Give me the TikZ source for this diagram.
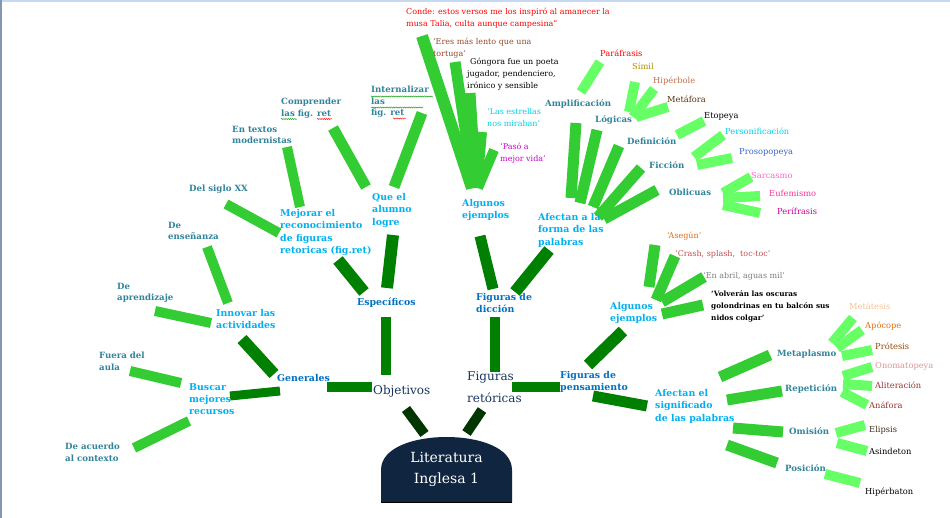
\documentclass[tikz,border=0pt]{standalone}
\usepackage{fontspec}
\setmainfont{DejaVu Serif}
\usetikzlibrary{decorations.pathmorphing}
\definecolor{tealc}{RGB}{49,132,155}
\definecolor{bbl}{RGB}{0,176,240}
\definecolor{mbl}{RGB}{0,112,192}
\definecolor{navy}{RGB}{23,54,93}
\definecolor{rootfill}{RGB}{16,37,63}
\definecolor{g1}{RGB}{0,55,0}
\definecolor{g2}{RGB}{0,128,0}
\definecolor{g3}{RGB}{51,204,51}
\definecolor{g4}{RGB}{102,255,102}
\definecolor{cred}{RGB}{255,0,0}
\definecolor{cbrown}{RGB}{150,75,40}
\definecolor{ccyan}{RGB}{0,210,235}
\definecolor{cmag}{RGB}{204,0,204}
\definecolor{colive}{RGB}{176,144,0}
\definecolor{csienna}{RGB}{192,112,77}
\definecolor{cdbrown}{RGB}{92,46,10}
\definecolor{croyal}{RGB}{51,102,204}
\definecolor{cpink}{RGB}{255,102,204}
\definecolor{chpink}{RGB}{255,51,153}
\definecolor{cdpink}{RGB}{204,0,153}
\definecolor{corange}{RGB}{228,108,10}
\definecolor{csalmon}{RGB}{192,80,77}
\definecolor{cgray}{RGB}{127,127,127}
\definecolor{cpeach}{RGB}{250,192,144}
\definecolor{cbrown2}{RGB}{152,72,6}
\definecolor{crose}{RGB}{217,150,148}
\definecolor{cmaroon}{RGB}{149,55,53}
\definecolor{cmaroon2}{RGB}{148,54,52}
\definecolor{cdark}{RGB}{63,47,31}
\definecolor{topline}{RGB}{198,217,241}
\definecolor{leftline}{RGB}{132,150,176}
\pgfdeclarelayer{bg}
\pgfsetlayers{bg,main}
\tikzset{
  lbl/.style={anchor=north west, inner sep=0pt, align=left},
  tl/.style={lbl, text=tealc, font=\bfseries\fontsize{8.6}{11.5}\selectfont},
  bb/.style={lbl, text=bbl, font=\bfseries\fontsize{9.4}{12.4}\selectfont},
  mb/.style={lbl, text=mbl, font=\bfseries\fontsize{9.4}{12}\selectfont},
  nv/.style={lbl, text=navy, font=\fontsize{12}{22}\selectfont},
  ex/.style={lbl, font=\fontsize{8}{12}\selectfont},
  lf/.style={lbl, font=\fontsize{8.3}{10}\selectfont},
  bar/.style={line width=11pt},
  b1/.style={bar, line width=10pt, draw=g1},
  b2/.style={bar, draw=g2},
  b3/.style={bar, draw=g3},
  b4/.style={bar, line width=10pt, draw=g4},
  wavy/.style={decorate, decoration={snake, amplitude=0.6pt, segment length=2.2pt}, line width=0.4pt}
}
\begin{document}
\begin{tikzpicture}[x=1pt,y=-1pt]
\useasboundingbox (0,0) rectangle (950,518);

% root shape
\fill[rootfill] (381,502) -- (381,470) .. controls (381,447) and (415,437) .. (446.5,437)
  .. controls (478,437) and (512,447) .. (512,470) -- (512,502) -- cycle;
\draw[black, line width=0.8pt] (381,502) -- (512,502);
\node[text=white, font=\fontsize{14}{21}\selectfont, align=center, inner sep=0pt] (root) at (446.5,469) {Literatura\\Inglesa 1};

% left teal labels
\node[tl] (apr) at (117,283) {De\\aprendizaje};
\node[tl] (fuera) at (99,352) {Fuera del\\aula};
\node[tl] (contexto) at (65,443) {De acuerdo\\al contexto};
\node[tl] (ensen) at (168,222) {De\\enseñanza};
\node[tl] (siglo) at (189,185) {Del siglo XX};
\node[tl] (textos) at (232,126) {En textos\\modernistas};
\node[tl] (compr) at (281,98) {Comprender\\las fig. ret};
\node[tl] (intern) at (371,86) {Internalizar\\las\\fig. ret};

% bright blue labels
\node[bb] (innovar) at (216,309) {Innovar las\\actividades};
\node[bb] (buscar) at (189,383) {Buscar\\mejores\\recursos};
\node[bb] (mejorar) at (280,209) {Mejorar el\\reconocimiento\\de figuras\\retoricas (fig.ret)};
\node[bb] (quel) at (372,193) {Que el\\alumno\\logre};
\node[bb] (ejA) at (462,199) {Algunos\\ejemplos};
\node[bb] (afectanF) at (538,213) {Afectan a la\\forma de las\\palabras};
\node[bb] (ejB) at (610,302) {Algunos\\ejemplos};
\node[bb] (afectanS) at (655,389) {Afectan el\\significado\\de las palabras};

% blue labels
\node[mb] (gen) at (277,374) {Generales};
\node[mb] (esp) at (357,298) {Específicos};
\node[mb] (dic) at (476,293) {Figuras de\\dicción};
\node[mb] (pens) at (560,371) {Figuras de\\pensamiento};

% navy labels
\node[nv] (obj) at (373,385) {Objetivos};
\node[nv] (fig) at (467,371) {Figuras\\retóricas};

% examples top
\node[ex, text=cred] (conde) at (406,8) {Conde: estos versos me los inspiró al amanecer la\\musa Talia, culta aunque campesina”};
\node[ex, text=cbrown] (eres) at (433,38) {‘Eres más lento que una\\tortuga’};
\node[ex, text=black] (gong) at (467,58) {\hspace{3pt}Góngora fue un poeta\\jugador, pendenciero,\\irónico y sensible};
\node[ex, text=ccyan] (estrellas) at (487,108) {‘Las estrellas\\nos miraban’};
\node[ex, text=cmag] (paso) at (500,143) {‘Pasó a\\mejor vida’};

% right top teal labels
\node[tl] (ampl) at (545,99) {Amplificación};
\node[tl] (logicas) at (595,115) {Lógicas};
\node[tl] (defin) at (627,137) {Definición};
\node[tl] (ficc) at (649,161) {Ficción};
\node[tl] (obl) at (669,189) {Oblicuas};

% right top leaves
\node[lf, text=cred] (parafr) at (600,50) {Paráfrasis};
\node[lf, text=colive] (simil) at (632,63) {Símil};
\node[lf, text=csienna] (hiperb) at (653,77) {Hipérbole};
\node[lf, text=cdbrown] (metaf) at (667,96) {Metáfora};
\node[lf, text=black] (etop) at (704,112) {Etopeya};
\node[lf, text=ccyan] (person) at (725,128) {Personificación};
\node[lf, text=croyal] (prosop) at (739,148) {Prosopopeya};
\node[lf, text=cpink] (sarc) at (751,172) {Sarcasmo};
\node[lf, text=chpink] (eufem) at (769,190) {Eufemismo};
\node[lf, text=cdpink] (perif) at (777,208) {Perífrasis};

% bottom right examples
\node[ex, text=corange] (asegun) at (667,232) {‘Asegún’};
\node[ex, text=csalmon] (crash) at (675,250) {‘Crash, splash,\ \ toc-toc’};
\node[ex, text=cgray] (abril) at (703,272) {‘En abril, aguas mil’};
\node[ex, text=black, font=\bfseries\fontsize{7.3}{12}\selectfont] (volv) at (711,290) {‘Volverán las oscuras\\golondrinas en tu balcón sus\\nidos colgar’};

% bottom right teal labels
\node[tl] (metapl) at (777,350) {Metaplasmo};
\node[tl] (repet) at (785,384) {Repetición};
\node[tl] (omis) at (789,427) {Omisión};
\node[tl] (posic) at (785,464) {Posición};

% bottom right leaves
\node[lf, text=cpeach] (metat) at (849,303) {Metátesis};
\node[lf, text=corange] (apoc) at (865,322) {Apócope};
\node[lf, text=cbrown2] (protes) at (875,343) {Prótesis};
\node[lf, text=crose] (onom) at (875,362) {Onomatopeya};
\node[lf, text=cmaroon] (alit) at (875,382) {Aliteración};
\node[lf, text=cmaroon2] (anaf) at (869,402) {Anáfora};
\node[lf, text=cdark] (elip) at (869,426) {Elipsis};
\node[lf, text=black] (asind) at (869,448) {Asindeton};
\node[lf, text=black] (hipba) at (865,488) {Hipérbaton};

% spell-check underlines
\draw[wavy, green!60!black] (281,119) -- (297,119);
\draw[wavy, red] (317,119) -- (332,119);
\draw[wavy, green!60!black] (371,96.5) -- (433,96.5);
\draw[wavy, green!60!black] (371,107.5) -- (423,107.5);
\draw[wavy, red] (393,118.5) -- (406,118.5);

\begin{pgfonlayer}{bg}
\fill[white] (0,0) rectangle (950,518);
\fill[topline] (0,0) rectangle (950,2);
\fill[leftline] (0,0) rectangle (1.5,518);
% left
\draw[b3, line width=10pt] ([shift={(38,28)}]apr.north west) -- ([shift={(-5,14)}]innovar.north west);
\draw[b2, line width=12pt] ([shift={(26,30)}]innovar.north west) -- ([shift={(-3,0)}]gen.north west);
\draw[b3, line width=10pt] ([shift={(39,25)}]ensen.north west) -- ([shift={(12,-6)}]innovar.north west);
\draw[b3, line width=10pt] ([shift={(31,19)}]fuera.north west) -- ([shift={(-8,0)}]buscar.north west);
\draw[b3, line width=10pt] ([shift={(69,5)}]contexto.north west) -- ([shift={(0,38)}]buscar.north west);
\draw[b2, line width=9pt] ([shift={(41,13)}]buscar.north west) -- ([shift={(3,17)}]gen.north west);
\draw[b2, line width=10pt] ([shift={(50,13)}]gen.north west) -- ([shift={(-1,2)}]obj.north west);
\draw[b3, line width=10pt] ([shift={(37,19)}]siglo.north west) -- ([shift={(-1,24)}]mejorar.north west);
\draw[b3, line width=10pt] ([shift={(55,21)}]textos.north west) -- ([shift={(20,-2)}]mejorar.north west);
\draw[b2, line width=12pt] ([shift={(58,51)}]mejorar.north west) -- ([shift={(7,-6)}]esp.north west);
\draw[b3] ([shift={(52,30)}]compr.north west) -- ([shift={(-6,-6)}]quel.north west);
\draw[b3] ([shift={(51,27)}]intern.north west) -- ([shift={(22,-6)}]quel.north west);
\draw[b2, line width=12pt] ([shift={(21,42)}]quel.north west) -- ([shift={(30,-10)}]esp.north west);
\draw[b2, line width=10pt] ([shift={(29,19)}]esp.north west) -- ([shift={(13,-10)}]obj.north west);
\draw[b1] ([shift={(33,24)}]obj.north west) -- ([shift={(-22,-35)}]root.center);
\draw[b1] ([shift={(15,39)}]fig.north west) -- ([shift={(20,-36)}]root.center);
% center
\draw[b2, line width=10pt] ([shift={(28,1)}]fig.north west) -- ([shift={(19,24)}]dic.north west);
\draw[b2] ([shift={(17,-4)}]dic.north west) -- ([shift={(18,37)}]ejA.north west);
\draw[b2, line width=12pt] ([shift={(39,-1)}]dic.north west) -- ([shift={(11,37)}]afectanF.north west);
\draw[b2, line width=10pt] ([shift={(45,16)}]fig.north west) -- ([shift={(0,16)}]pens.north west);
\draw[b3, line width=12pt] ([shift={(10,-11)}]ejA.north west) -- ([shift={(16,28)}]conde.north west);
\draw[b3, line width=11pt] ([shift={(12,-11)}]ejA.north west) -- ([shift={(22,24)}]eres.north west);
\draw[b3, line width=11pt] ([shift={(14,-11)}]ejA.north west) -- ([shift={(3,35)}]gong.north west);
\draw[b3, line width=10pt] ([shift={(15,-11)}]ejA.north west) -- ([shift={(-5,24)}]estrellas.north west);
\draw[b3, line width=10pt] ([shift={(16,-11)}]ejA.north west) -- ([shift={(-6,7)}]paso.north west);
% afectan forma
\draw[b3] ([shift={(33,-15)}]afectanF.north west) -- ([shift={(31,24)}]ampl.north west);
\draw[b3] ([shift={(42,-10)}]afectanF.north west) -- ([shift={(2,15)}]logicas.north west);
\draw[b3] ([shift={(55,-6)}]afectanF.north west) -- ([shift={(-8,9)}]defin.north west);
\draw[b3] ([shift={(60,4)}]afectanF.north west) -- ([shift={(-8,7)}]ficc.north west);
\draw[b3] ([shift={(66,6)}]afectanF.north west) -- ([shift={(-12,1)}]obl.north west);
\draw[b4] ([shift={(36,-7)}]ampl.north west) -- ([shift={(0,12)}]parafr.north west);
\draw[b4] ([shift={(34,-3)}]logicas.north west) -- ([shift={(3,19)}]simil.north west);
\draw[b4] ([shift={(38,2)}]logicas.north west) -- ([shift={(1,12)}]hiperb.north west);
\draw[b4] ([shift={(41,2)}]logicas.north west) -- ([shift={(1,11)}]metaf.north west);
\draw[b4] ([shift={(50,-2)}]defin.north west) -- ([shift={(0,9)}]etop.north west);
\draw[b4] ([shift={(45,-4)}]ficc.north west) -- ([shift={(-2,7)}]person.north west);
\draw[b4] ([shift={(48,4)}]ficc.north west) -- ([shift={(-7,10)}]prosop.north west);
\draw[b4] ([shift={(54,4)}]obl.north west) -- ([shift={(0,5)}]sarc.north west);
\draw[b4] ([shift={(54,9)}]obl.north west) -- ([shift={(-9,6)}]eufem.north west);
\draw[b4] ([shift={(54,16)}]obl.north west) -- ([shift={(-17,5)}]perif.north west);
% pensamiento
\draw[b2, line width=12pt] ([shift={(28,-6)}]pens.north west) -- ([shift={(13,29)}]ejB.north west);
\draw[b2] ([shift={(33,25)}]pens.north west) -- ([shift={(-8,17)}]afectanS.north west);
\draw[b3] ([shift={(39,-15)}]ejB.north west) -- ([shift={(-12,13)}]asegun.north west);
\draw[b3] ([shift={(46,-2)}]ejB.north west) -- ([shift={(0,6)}]crash.north west);
\draw[b3] ([shift={(52,0)}]ejB.north west) -- ([shift={(1,5)}]abril.north west);
\draw[b3] ([shift={(52,12)}]ejB.north west) -- ([shift={(-8,15)}]volv.north west);
\draw[b3] ([shift={(65,-12)}]afectanS.north west) -- ([shift={(-7,5)}]metapl.north west);
\draw[b3] ([shift={(72,11)}]afectanS.north west) -- ([shift={(-3,7)}]repet.north west);
\draw[b3] ([shift={(78,39)}]afectanS.north west) -- ([shift={(-6,5)}]omis.north west);
\draw[b3] ([shift={(72,56)}]afectanS.north west) -- ([shift={(-8,-1)}]posic.north west);
\draw[b4] ([shift={(55,-7)}]metapl.north west) -- ([shift={(4,15)}]metat.north west);
\draw[b4] ([shift={(60,-2)}]metapl.north west) -- ([shift={(-3,8)}]apoc.north west);
\draw[b4] ([shift={(65,6)}]metapl.north west) -- ([shift={(-3,7)}]protes.north west);
\draw[b4] ([shift={(58,-8)}]repet.north west) -- ([shift={(-3,5)}]onom.north west);
\draw[b4] ([shift={(58,0)}]repet.north west) -- ([shift={(-3,4)}]alit.north west);
\draw[b4] ([shift={(57,8)}]repet.north west) -- ([shift={(-2,3)}]anaf.north west);
\draw[b4] ([shift={(47,6)}]omis.north west) -- ([shift={(-4,-1)}]elip.north west);
\draw[b4] ([shift={(48,16)}]omis.north west) -- ([shift={(-2,3)}]asind.north west);
\draw[b4] ([shift={(40,10)}]posic.north west) -- ([shift={(-5,-5)}]hipba.north west);
\end{pgfonlayer}
\end{tikzpicture}
\end{document}
